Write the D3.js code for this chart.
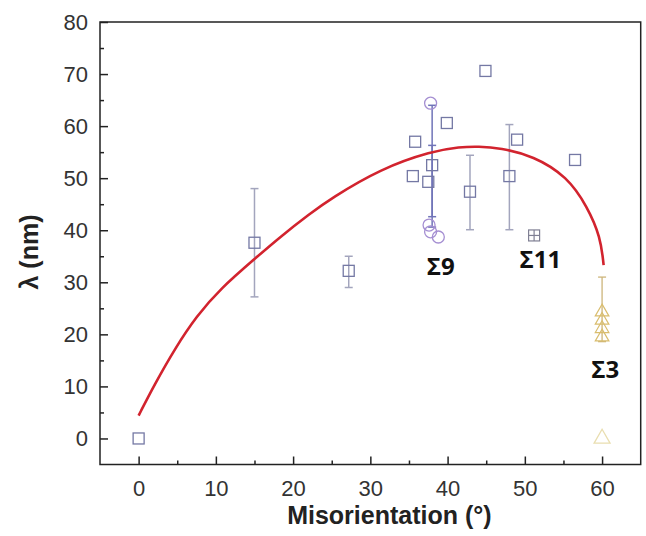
<!DOCTYPE html>
<html>
<head>
<meta charset="utf-8">
<script src="https://cdn.jsdelivr.net/npm/d3@7"></script>
<style>
  body { margin: 0; background: #fff; }
  svg { display: block; }
</style>
</head>
<body>
<script>
// values
var squareX = [0, 15, 27.2, 35.5, 35.8, 37.5, 38, 39.9, 42.9, 44.9, 48, 49, 56.5];
var squareY = [0, 37.6, 32.2, 50.4, 57, 49.3, 52.5, 60.6, 47.4, 70.6, 50.4, 57.4, 53.5];

var errX  = [15, 27.2, 42.9, 48];
var errLo = [27.2, 29, 40.1, 40.1];
var errHi = [48, 35, 54.4, 60.3];

var sigma9X = [37.8, 37.6, 37.8, 38.8];
var sigma9Y = [64.4, 41, 39.7, 38.7];
var sigma9ErrX  = [38, 38];
var sigma9ErrLo = [40.6, 42.6];
var sigma9ErrHi = [64, 56.3];

var sigma11X = [51.2];
var sigma11Y = [39.0];

var sigma3X = [60, 60, 60, 60];
var sigma3Y = [24.3, 22.7, 21.1, 19.5];
var sigma3ErrX = [60], sigma3ErrLo = [18.6], sigma3ErrHi = [31];
var paleX = [60], paleY = [0];

// red fit curve
var fitX = [0, 2, 4.75, 7.5, 10.6, 15.1, 18.3, 22.2, 24.8, 31.3, 38, 41.6, 44, 46.8, 51.1, 55.5, 58.1, 59.8, 60.2];
var fitY = [4.4, 10.2, 17.4, 23.5, 28.8, 34.6, 38.7, 43.2, 46.0, 51.8, 55.2, 56, 56.1, 55.8, 54.3, 50.3, 44.5, 38.7, 33.3];

var xTicks = [0, 10, 20, 30, 40, 50, 60];
var xMinor = [5, 15, 25, 35, 45, 55];
var yTicks = [0, 10, 20, 30, 40, 50, 60, 70, 80];
var yMinor = [5, 15, 25, 35, 45, 55, 65, 75];

var labels = ["Σ9", "Σ11", "Σ3"];
var labelX = [39.1, 52.0, 60.4];
var labelY = [33.1, 34.3, 13.2];

var width = 646, height = 536;
var plotLeft = 100, plotRight = 640.7, plotTop = 22, plotBottom = 464.5;

var svg = d3.select("body").append("svg")
  .attr("width", width)
  .attr("height", height);

var x = d3.scaleLinear().domain([-5, 65]).range([plotLeft, plotRight]);
var y = d3.scaleLinear().domain([-5, 80]).range([plotBottom, plotTop]);

var tickFont = "Liberation Sans, Arial, sans-serif";

// axes
var gx = svg.append("g")
  .attr("transform", "translate(0," + plotBottom + ")")
  .call(d3.axisBottom(x).tickValues(xTicks).tickSizeInner(-8).tickSizeOuter(0).tickPadding(16));
gx.append("g").call(d3.axisBottom(x).tickValues(xMinor).tickSizeInner(-4).tickSizeOuter(0).tickFormat(""));

var gy = svg.append("g")
  .attr("transform", "translate(" + plotLeft + ",0)")
  .call(d3.axisLeft(y).tickValues(yTicks).tickSizeInner(-8).tickSizeOuter(0).tickPadding(12));
gy.append("g").call(d3.axisLeft(y).tickValues(yMinor).tickSizeInner(-4).tickSizeOuter(0).tickFormat(""));

svg.selectAll(".domain").remove();
svg.selectAll(".tick line").attr("stroke", "#222").attr("stroke-width", 1.5);
svg.selectAll(".tick text")
  .attr("font-family", tickFont)
  .attr("font-size", "22px")
  .attr("fill", "#333");

// frame
svg.append("rect")
  .attr("x", plotLeft).attr("y", plotTop)
  .attr("width", plotRight - plotLeft).attr("height", plotBottom - plotTop)
  .attr("fill", "none").attr("stroke", "#222").attr("stroke-width", 1.5);

// axis titles
svg.append("text")
  .attr("x", (plotLeft + plotRight) / 2 + 19)
  .attr("y", 524)
  .attr("text-anchor", "middle")
  .attr("font-family", tickFont)
  .attr("font-weight", "bold")
  .attr("font-size", "25px")
  .attr("fill", "#222")
  .text("Misorientation (°)");

svg.append("text")
  .attr("transform", "translate(38,252) rotate(-90)")
  .attr("text-anchor", "middle")
  .attr("font-family", tickFont)
  .attr("font-weight", "bold")
  .attr("font-size", "25px")
  .attr("fill", "#222")
  .text("λ (nm)");

function errorBars(xs, lo, hi, color, w) {
  var g = svg.append("g").attr("stroke", color).attr("stroke-width", w);
  xs.forEach(function(d, i) {
    g.append("line").attr("x1", x(d)).attr("x2", x(d)).attr("y1", y(lo[i])).attr("y2", y(hi[i]));
    g.append("line").attr("x1", x(d) - 4).attr("x2", x(d) + 4).attr("y1", y(lo[i])).attr("y2", y(lo[i]));
    g.append("line").attr("x1", x(d) - 4).attr("x2", x(d) + 4).attr("y1", y(hi[i])).attr("y2", y(hi[i]));
  });
}

errorBars(errX, errLo, errHi, "#a3a5bd", 1.5);
errorBars(sigma9ErrX, sigma9ErrLo, sigma9ErrHi, "#7074b8", 1.5);
errorBars(sigma3ErrX, sigma3ErrLo, sigma3ErrHi, "#cdb57a", 1.3);

// fit curve
var line = d3.line()
  .x(function(d) { return x(d[0]); })
  .y(function(d) { return y(d[1]); })
  .curve(d3.curveBasis);

svg.append("path")
  .datum(fitX.map(function(d, i) { return [d, fitY[i]]; }))
  .attr("d", line)
  .attr("fill", "none")
  .attr("stroke", "#d2232e")
  .attr("stroke-width", 2.6);

// square markers
var s = 11;
svg.selectAll(".sq")
  .data(squareX.map(function(d, i) { return [d, squareY[i]]; }))
  .enter().append("rect")
  .attr("class", "sq")
  .attr("x", function(d) { return x(d[0]) - s / 2; })
  .attr("y", function(d) { return y(d[1]) - s / 2; })
  .attr("width", s).attr("height", s)
  .attr("fill", "none")
  .attr("stroke", "#7478a4")
  .attr("stroke-width", 1.3);

// sigma 9 circles
svg.selectAll(".c9")
  .data(sigma9X.map(function(d, i) { return [d, sigma9Y[i]]; }))
  .enter().append("circle")
  .attr("class", "c9")
  .attr("cx", function(d) { return x(d[0]); })
  .attr("cy", function(d) { return y(d[1]); })
  .attr("r", 6)
  .attr("fill", "none")
  .attr("stroke", "#a58fd2")
  .attr("stroke-width", 1.3);

// sigma 11 boxed plus
var b = 11;
sigma11X.forEach(function(d, i) {
  var cx = x(d), cy = y(sigma11Y[i]);
  var g = svg.append("g").attr("stroke", "#808094").attr("stroke-width", 1.2).attr("fill", "none");
  g.append("rect").attr("x", cx - b / 2).attr("y", cy - b / 2).attr("width", b).attr("height", b);
  g.append("line").attr("x1", cx).attr("x2", cx).attr("y1", cy - b / 2).attr("y2", cy + b / 2);
  g.append("line").attr("x1", cx - b / 2).attr("x2", cx + b / 2).attr("y1", cy).attr("y2", cy);
});

// sigma 3 triangles
var tri = d3.symbol().type(d3.symbolTriangle).size(80);
svg.selectAll(".t3")
  .data(sigma3X.map(function(d, i) { return [d, sigma3Y[i]]; }))
  .enter().append("path")
  .attr("class", "t3")
  .attr("transform", function(d) { return "translate(" + x(d[0]) + "," + y(d[1]) + ")"; })
  .attr("d", tri)
  .attr("fill", "none")
  .attr("stroke", "#d9bd6e")
  .attr("stroke-width", 1.2);

svg.selectAll(".tp")
  .data(paleX.map(function(d, i) { return [d, paleY[i]]; }))
  .enter().append("path")
  .attr("class", "tp")
  .attr("transform", function(d) { return "translate(" + x(d[0]) + "," + y(d[1]) + ")"; })
  .attr("d", d3.symbol().type(d3.symbolTriangle).size(110))
  .attr("fill", "none")
  .attr("stroke", "#e9deb0")
  .attr("stroke-width", 1.3);

// sigma labels
svg.selectAll(".lab")
  .data(labels)
  .enter().append("text")
  .attr("class", "lab")
  .attr("x", function(d, i) { return x(labelX[i]); })
  .attr("y", function(d, i) { return y(labelY[i]); })
  .attr("text-anchor", "middle")
  .attr("dy", "0.35em")
  .attr("font-family", "Open Sans, DejaVu Sans, sans-serif")
  .attr("font-weight", "bold")
  .attr("font-size", "24px")
  .attr("fill", "#111")
  .text(function(d) { return d; });
</script>
</body>
</html>
